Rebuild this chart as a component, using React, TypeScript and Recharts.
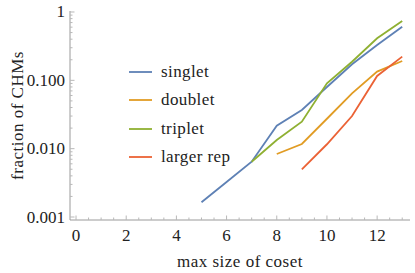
import { LineChart, Line, XAxis, YAxis, Legend } from 'recharts'

// max size of coset
const sizes = [5, 6, 7, 8, 9, 10, 11, 12, 13]

// fraction of CHMs per rep (null = no point)
const singlet = [0.00164, 0.00325, 0.00644, 0.0217, 0.0368, 0.0798, 0.172, 0.329, 0.609]
const triplet = [null, null, 0.00644, 0.0134, 0.0248, 0.0905, 0.187, 0.412, 0.738]
const doublet = [null, null, null, 0.00835, 0.0117, 0.0274, 0.0646, 0.134, 0.192]
const largerRep = [null, null, null, null, 0.00499, 0.0116, 0.03, 0.116, 0.222]

const xTicks = [0, 0.5, 1, 1.5, 2, 2.5, 3, 3.5, 4, 4.5, 5, 5.5, 6, 6.5, 7, 7.5, 8, 8.5, 9, 9.5, 10, 10.5, 11, 11.5, 12, 12.5, 13]
const xMajor = [0, 2, 4, 6, 8, 10, 12]
const yTicks = [
  0.001, 0.002, 0.003, 0.004, 0.005, 0.006, 0.007, 0.008, 0.009,
  0.01, 0.02, 0.03, 0.04, 0.05, 0.06, 0.07, 0.08, 0.09,
  0.1, 0.2, 0.3, 0.4, 0.5, 0.6, 0.7, 0.8, 0.9, 1,
]
const yMajor = [0.001, 0.01, 0.1, 1]

const series = [
  { key: 'singlet', label: 'singlet', color: '#5E81B5' },
  { key: 'doublet', label: 'doublet', color: '#E19C24' },
  { key: 'triplet', label: 'triplet', color: '#8FB032' },
  { key: 'larger', label: 'larger rep', color: '#EB6235' },
]

const data = sizes.map((s, i) => ({
  size: s,
  singlet: singlet[i],
  doublet: doublet[i],
  triplet: triplet[i],
  larger: largerRep[i],
}))

const FONT = 'Liberation Serif, DejaVu Serif, serif'
const FRAME = '#9a9a9a'
const TICK = '#b8b8b8'
const TEXT = '#222'

const isMajorX = (v: number) => xMajor.includes(v)
const isMajorY = (v: number) => yMajor.some((m) => Math.abs(m - v) < 1e-9)
const fmtY = (v: number) => (v === 1 ? '1' : v.toFixed(3))

function BottomTick({ x, y, payload }: any) {
  const major = isMajorX(payload.value)
  return (
    <g>
      <line x1={x} x2={x} y1={y} y2={y - (major ? 4.5 : 2.5)} stroke={TICK} />
      {major && (
        <text x={x} y={y + 21} textAnchor="middle" style={{ fontFamily: FONT, fontSize: 17 }} fill={TEXT}>
          {payload.value}
        </text>
      )}
    </g>
  )
}

function TopTick({ x, y, payload }: any) {
  const major = isMajorX(payload.value)
  return <line x1={x} x2={x} y1={y} y2={y + (major ? 4.5 : 2.5)} stroke={TICK} />
}

function LeftTick({ x, y, payload }: any) {
  const major = isMajorY(payload.value)
  return (
    <g>
      <line x1={x} x2={x + (major ? 4.5 : 2.5)} y1={y} y2={y} stroke={TICK} />
      {major && (
        <text x={x - 5} y={y + 5.5} textAnchor="end" style={{ fontFamily: FONT, fontSize: 17 }} fill={TEXT}>
          {fmtY(payload.value)}
        </text>
      )}
    </g>
  )
}

function RightTick({ x, y, payload }: any) {
  const major = isMajorY(payload.value)
  return <line x1={x} x2={x - (major ? 4.5 : 2.5)} y1={y} y2={y} stroke={TICK} />
}

function XTitle({ viewBox }: any) {
  return (
    <text
      x={viewBox.x + viewBox.width / 2}
      y={viewBox.y + 47}
      textAnchor="middle"
      style={{ fontFamily: FONT, fontSize: 17, letterSpacing: 0.5 }}
      fill={TEXT}
    >
      max size of coset
    </text>
  )
}

function YTitle({ viewBox }: any) {
  const cx = 23
  const cy = viewBox.y + viewBox.height / 2
  return (
    <text
      x={cx}
      y={cy}
      transform={`rotate(-90 ${cx} ${cy})`}
      textAnchor="middle"
      style={{ fontFamily: FONT, fontSize: 17, letterSpacing: 0.5 }}
      fill={TEXT}
    >
      fraction of CHMs
    </text>
  )
}

function LegendBox() {
  return (
    <div style={{ fontFamily: FONT, fontSize: 17, color: TEXT, letterSpacing: 0.4 }}>
      {series.map((s) => (
        <div key={s.key} style={{ display: 'flex', alignItems: 'center', height: 28.5 }}>
          <svg width={23} height={4} style={{ marginRight: 9 }}>
            <line x1={0} x2={23} y1={2} y2={2} stroke={s.color} strokeWidth={1.8} />
          </svg>
          <span>{s.label}</span>
        </div>
      ))}
    </div>
  )
}

export default function App() {
  return (
    <div style={{ position: 'absolute', left: 0, top: 0, width: 415, height: 273, background: '#fff' }}>
      <LineChart width={415} height={273} data={data} margin={{ top: 11, right: 5, bottom: 0, left: 0 }}>
        <XAxis
          dataKey="size"
          type="number"
          domain={[-0.24, 13.31]}
          allowDataOverflow
          ticks={xTicks}
          interval={0}
          height={53}
          tickSize={0}
          tickMargin={0}
          tickLine={false}
          axisLine={{ stroke: FRAME }}
          tick={<BottomTick />}
          label={<XTitle />}
        />
        <XAxis
          xAxisId="top"
          dataKey="size"
          type="number"
          orientation="top"
          domain={[-0.24, 13.31]}
          allowDataOverflow
          ticks={xTicks}
          interval={0}
          height={0}
          tickSize={0}
          tickMargin={0}
          tickLine={false}
          axisLine={{ stroke: FRAME }}
          tick={<TopTick />}
        />
        <YAxis
          type="number"
          scale="log"
          domain={[0.000904, 1.034]}
          allowDataOverflow
          ticks={yTicks}
          interval={0}
          width={70}
          tickSize={0}
          tickMargin={0}
          tickLine={false}
          axisLine={{ stroke: FRAME }}
          tick={<LeftTick />}
          label={<YTitle />}
        />
        <YAxis
          yAxisId="right"
          orientation="right"
          type="number"
          scale="log"
          domain={[0.000904, 1.034]}
          allowDataOverflow
          ticks={yTicks}
          interval={0}
          width={0}
          tickSize={0}
          tickMargin={0}
          tickLine={false}
          axisLine={{ stroke: FRAME }}
          tick={<RightTick />}
        />
        <Legend
          layout="horizontal"
          align="center"
          verticalAlign="middle"
          content={<LegendBox />}
          wrapperStyle={{ left: 129, top: 57.5, width: 'auto', height: 'auto' }}
        />
        {series.map((s) => (
          <Line
            key={s.key}
            dataKey={s.key}
            name={s.label}
            stroke={s.color}
            strokeWidth={1.8}
            dot={false}
            activeDot={false}
            isAnimationActive={false}
            connectNulls={false}
          />
        ))}
      </LineChart>
    </div>
  )
}
